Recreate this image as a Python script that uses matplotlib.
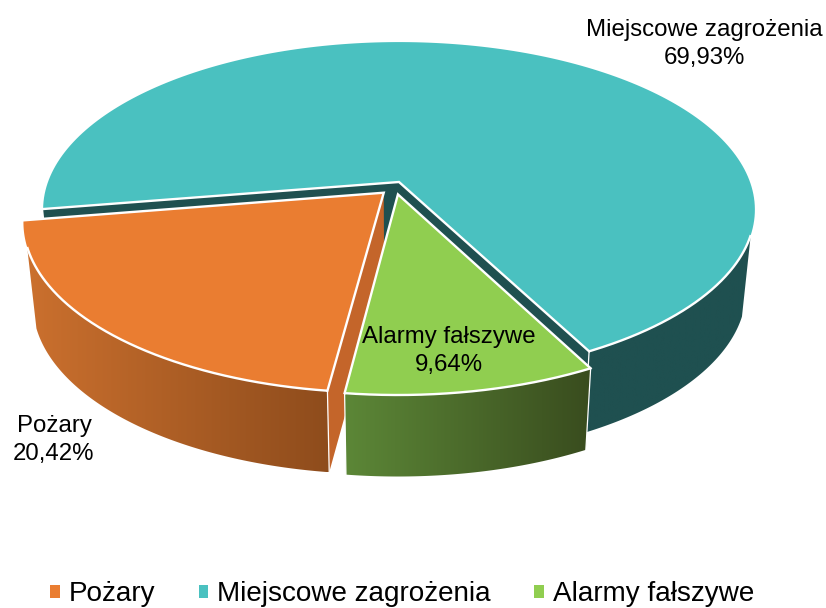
import numpy as np
import matplotlib
matplotlib.use("Agg")
import matplotlib.pyplot as plt
from matplotlib.patches import Polygon, Patch
from matplotlib.colors import LinearSegmentedColormap

plt.rcParams['font.family'] = ['Liberation Sans', 'DejaVu Sans']

categories = ["Pożary", "Miejscowe zagrożenia", "Alarmy fałszywe"]
values = [20.42, 69.93, 9.64]

colors = ["#EA7D31", "#4AC1C0", "#90CE50"]
inner_colors = ["#C4652A", "#1F5050", "#3A4E1F"]
wall_left = ["#CB702E", "#1F5050", "#5C8737"]
wall_right = ["#8E4C1C", "#1F5050", "#394C1E"]
offsets = [(-0.043, -0.065), (0.0, 0.0), (-0.003, -0.075)]
# angular range of the outer wall that faces the viewer (degrees, None = slice edge)
wall_from = [None, 108.0, None]
wall_to = [252.0, None, None]
# which radial cut faces are visible: 0 = start edge, 1 = end edge
visible_cuts = [(0,), (0, 1), ()]
draw_order = [1, 0, 2]
start_angle = 187.2

CX, CY, A, B, K = 399.0, 182.0, 351.0, 163.0, 0.165
VX, SHRINK, DEPTH = 399.0, 0.975, 81.5


def project(x, y):
    w = 1 + K * y
    return CX + A * x / w, CY - B * y / w


def rim(t0, t1, off):
    t = np.radians(np.linspace(t0, t1, 200))
    return project(np.sin(t) + off[0], np.cos(t) + off[1])


def lower(px, py):
    return VX + SHRINK * (np.asarray(px) - VX), np.asarray(py) + DEPTH


def strip(xa, ya):
    xb, yb = lower(xa, ya)
    return np.r_[np.c_[xa, ya], np.c_[xb, yb][::-1]]


fig = plt.figure(figsize=(8.26, 6.08), dpi=100)
ax = fig.add_axes([0, 0, 1, 1])

spans = []
a = start_angle
for v in values:
    b = a + v * 3.6
    spans.append((a, b))
    a = b

for rank, i in enumerate(draw_order):
    t0, t1 = spans[i]
    off = offsets[i]
    z = 2 + 2 * rank
    ox, oy = project(off[0], off[1])
    # radial cut faces
    for which in visible_cuts[i]:
        th = (t0, t1)[which]
        rx, ry = rim(th, th, off)
        xs = np.array([ox, rx[0]])
        ys = np.array([oy, ry[0]])
        ax.add_patch(Polygon(strip(xs, ys), closed=True, fc=inner_colors[i],
                             ec="none", zorder=z))
    # outer wall with a horizontal gradient
    w0 = wall_from[i] if wall_from[i] is not None else t0
    w1 = wall_to[i] if wall_to[i] is not None else (t1 - 360 if t1 - t0 > 180 else t1)
    rx, ry = rim(w0, w1, off)
    pts = strip(rx, ry)
    poly = Polygon(pts, closed=True, fc="none", ec="none", zorder=z + 0.1)
    ax.add_patch(poly)
    cmap = LinearSegmentedColormap.from_list("w", [wall_left[i], wall_right[i]])
    im = ax.imshow(np.linspace(0, 1, 256)[None, :], cmap=cmap, aspect="auto",
                   extent=(pts[:, 0].min(), pts[:, 0].max(), pts[:, 1].max(), pts[:, 1].min()),
                   zorder=z + 0.05)
    im.set_clip_path(poly)
    # thin white line down the wall's slice-edge corners
    if wall_to[i] is None:
        ex, ey = rim(w1, w1, off)
        lx, ly = lower(ex, ey)
        ax.plot([ex[0], lx[0]], [ey[0], ly[0]], color="white", lw=0.9, zorder=z + 0.15)
    if wall_from[i] is None:
        ex, ey = rim(w0, w0, off)
        lx, ly = lower(ex, ey)
        ax.plot([ex[0], lx[0]], [ey[0], ly[0]], color="white", lw=0.9, zorder=z + 0.15)
    # top face
    rx, ry = rim(t0, t1, off)
    top = np.r_[[[ox, oy]], np.c_[rx, ry]]
    ax.add_patch(Polygon(top, closed=True, fc=colors[i], ec="none", zorder=z + 0.3))
    # white border along the front rim and the radial edges
    vx, vy = rim(w0, w1, off)
    ax.plot(vx, vy, color="white", lw=1.7, zorder=z + 0.4, solid_capstyle="butt")
    ax.plot([rim(t0, t0, off)[0][0], ox, rim(t1, t1, off)[0][0]],
            [rim(t0, t0, off)[1][0], oy, rim(t1, t1, off)[1][0]],
            color="white", lw=1.7, zorder=z + 0.4, solid_joinstyle="miter")

labels = [f"{c}\n{v:.2f}%".replace(".", ",") for c, v in zip(categories, values)]
label_pos = [(54, 440), (704, 44), (449, 351)]
for lab, (x, y) in zip(labels, label_pos):
    ax.text(x, y, lab, ha="center", va="center", fontsize=17.3, color="black",
            linespacing=1.3, zorder=20)

handles = [Patch(fc=c, ec="none") for c in colors]
ax.legend(handles, categories, loc="center", bbox_to_anchor=(0.4867, 0.0225), frameon=False, ncol=3,
          fontsize=20.1, handlelength=0.35, handleheight=0.35, handletextpad=0.32, columnspacing=1.55,
          borderpad=0, borderaxespad=0)

ax.set_xlim(0, 826)
ax.set_ylim(608, 0)
ax.axis("off")
fig.savefig("out.png", dpi=100)
